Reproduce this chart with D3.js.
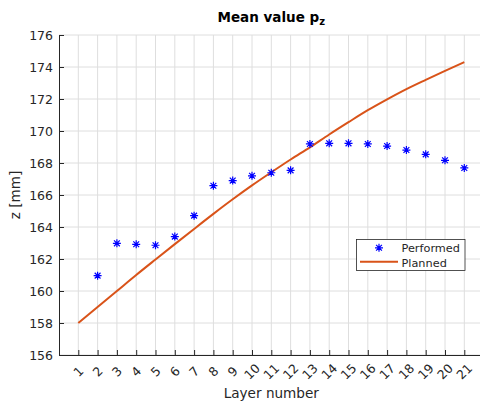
<!DOCTYPE html>
<html lang="en">
  <head>
    <meta charset="utf-8">
    <title>Mean value p_z</title>
    <script type="text/javascript" src="https://cdn.jsdelivr.net/npm/d3@7"></script>
    <style>
      body { margin: 0; background: #fff; }
      svg { display: block; font-family: "DejaVu Sans", sans-serif; }
      .tick-text { fill: #262626; font-size: 12.5px; }
      .grid line { stroke: #dedede; stroke-width: 1; }
    </style>
  </head>
  <body>
    <script type="text/javascript">
      var layers = [1,2,3,4,5,6,7,8,9,10,11,12,13,14,15,16,17,18,19,20,21];
      var performedLayers = [2,3,4,5,6,7,8,9,10,11,12,13,14,15,16,17,18,19,20,21];
      var performed = [160.96,162.98,162.92,162.86,163.4,164.71,166.58,166.9,167.2,167.39,167.54,169.19,169.23,169.23,169.19,169.06,168.81,168.54,168.17,167.69];
      var planned = [158.0,159.0,160.0,161.0,161.97,162.93,163.88,164.82,165.73,166.6,167.42,168.22,168.98,169.78,170.55,171.3,171.98,172.62,173.2,173.76,174.3];
      var yTicks = [156,158,160,162,164,166,168,170,172,174,176];

      var w = 480;
      var h = 401;
      var padLeft = 59, padTop = 35, padBottom = 355;

      //Create SVG element
      var svg = d3.select("body")
        .append("svg")
        .attr("width", w)
        .attr("height", h);

      var xScale = d3.scaleLinear()
        .domain([0, 22])
        .range([padLeft, padLeft + 22 * 19.3]);
      var yScale = d3.scaleLinear()
        .domain([156, 176])
        .range([padBottom, padTop]);

      // grid
      svg.append("g")
        .attr("class", "grid")
        .selectAll("line.v")
        .data(layers)
        .enter()
        .append("line")
        .attr("x1", function(d) { return xScale(d); })
        .attr("x2", function(d) { return xScale(d); })
        .attr("y1", padTop)
        .attr("y2", padBottom);

      svg.append("g")
        .attr("class", "grid")
        .selectAll("line.h")
        .data(yTicks)
        .enter()
        .append("line")
        .attr("x1", padLeft)
        .attr("x2", xScale(22))
        .attr("y1", function(d) { return yScale(d); })
        .attr("y2", function(d) { return yScale(d); });

      // axes
      var xAxis = d3.axisBottom(xScale)
        .tickValues(layers)
        .tickSizeInner(-5)
        .tickSizeOuter(0)
        .tickFormat("");
      var yAxis = d3.axisLeft(yScale)
        .tickValues(yTicks)
        .tickSizeInner(-5)
        .tickSizeOuter(0)
        .tickFormat("");

      var gx = svg.append("g")
        .attr("transform", "translate(0," + padBottom + ")")
        .call(xAxis);
      gx.select(".domain").attr("stroke", "#262626");
      gx.selectAll(".tick line").attr("stroke", "#262626");

      var gy = svg.append("g")
        .attr("transform", "translate(" + padLeft + ",0)")
        .call(yAxis);
      gy.select(".domain").attr("stroke", "#262626");
      gy.selectAll(".tick line").attr("stroke", "#262626");

      // tick labels
      svg.selectAll("text.ylab")
        .data(yTicks)
        .enter()
        .append("text")
        .attr("class", "tick-text")
        .attr("x", 53)
        .attr("y", function(d) { return yScale(d); })
        .attr("dy", "0.36em")
        .attr("text-anchor", "end")
        .text(function(d) { return d; });

      svg.selectAll("text.xlab")
        .data(layers)
        .enter()
        .append("text")
        .attr("class", "tick-text")
        .attr("text-anchor", "middle")
        .attr("dy", "0.36em")
        .attr("transform", function(d) {
          return "translate(" + xScale(d) + "," + 371.5 + ") rotate(-45)";
        })
        .text(function(d) { return d; });

      // planned line
      var line = d3.line()
        .x(function(d, i) { return xScale(layers[i]); })
        .y(function(d) { return yScale(d); })
        .curve(d3.curveMonotoneX);

      svg.append("path")
        .datum(planned)
        .attr("d", line)
        .attr("fill", "none")
        .attr("stroke", "#D95319")
        .attr("stroke-width", 2);

      // asterisk markers
      var star = "M-4,0L4,0M0,-4L0,4M-2.9,-2.9L2.9,2.9M-2.9,2.9L2.9,-2.9";
      svg.selectAll("path.star")
        .data(performed)
        .enter()
        .append("path")
        .attr("class", "star")
        .attr("d", star)
        .attr("transform", function(d, i) {
          return "translate(" + xScale(performedLayers[i]) + "," + yScale(d) + ")";
        })
        .attr("fill", "none")
        .attr("stroke", "#0000ff")
        .attr("stroke-width", 1.2);

      // legend
      var lg = svg.append("g");
      lg.append("rect")
        .attr("x", 356.5)
        .attr("y", 239.5)
        .attr("width", 108.5)
        .attr("height", 31)
        .attr("fill", "#fff")
        .attr("stroke", "#262626")
        .attr("stroke-width", 0.8);
      lg.append("path")
        .attr("d", star)
        .attr("transform", "translate(379,247.8)")
        .attr("fill", "none")
        .attr("stroke", "#0000ff")
        .attr("stroke-width", 1.2);
      lg.append("line")
        .attr("x1", 360)
        .attr("x2", 398)
        .attr("y1", 261.8)
        .attr("y2", 261.8)
        .attr("stroke", "#D95319")
        .attr("stroke-width", 2);
      lg.append("text")
        .attr("x", 401.5)
        .attr("y", 251.8)
        .attr("font-size", "11.3px")
        .attr("fill", "#262626")
        .text("Performed");
      lg.append("text")
        .attr("x", 401.5)
        .attr("y", 266.5)
        .attr("font-size", "11.3px")
        .attr("fill", "#262626")
        .text("Planned");

      // title and axis labels
      var title = svg.append("text")
        .attr("x", (padLeft + xScale(22)) / 2)
        .attr("y", 22)
        .attr("text-anchor", "middle")
        .attr("font-size", "13.5px")
        .attr("font-weight", "bold")
        .attr("fill", "#000");
      title.append("tspan").text("Mean value p");
      title.append("tspan")
        .attr("dy", 3)
        .attr("font-size", "10px")
        .text("z");

      svg.append("text")
        .attr("x", (padLeft + xScale(22)) / 2)
        .attr("y", 398)
        .attr("text-anchor", "middle")
        .attr("font-size", "13.6px")
        .attr("fill", "#262626")
        .text("Layer number");

      svg.append("text")
        .attr("transform", "translate(20," + ((padTop + padBottom) / 2) + ") rotate(-90)")
        .attr("text-anchor", "middle")
        .attr("font-size", "13.6px")
        .attr("fill", "#262626")
        .text("z [mm]");
    </script>
  </body>
</html>
